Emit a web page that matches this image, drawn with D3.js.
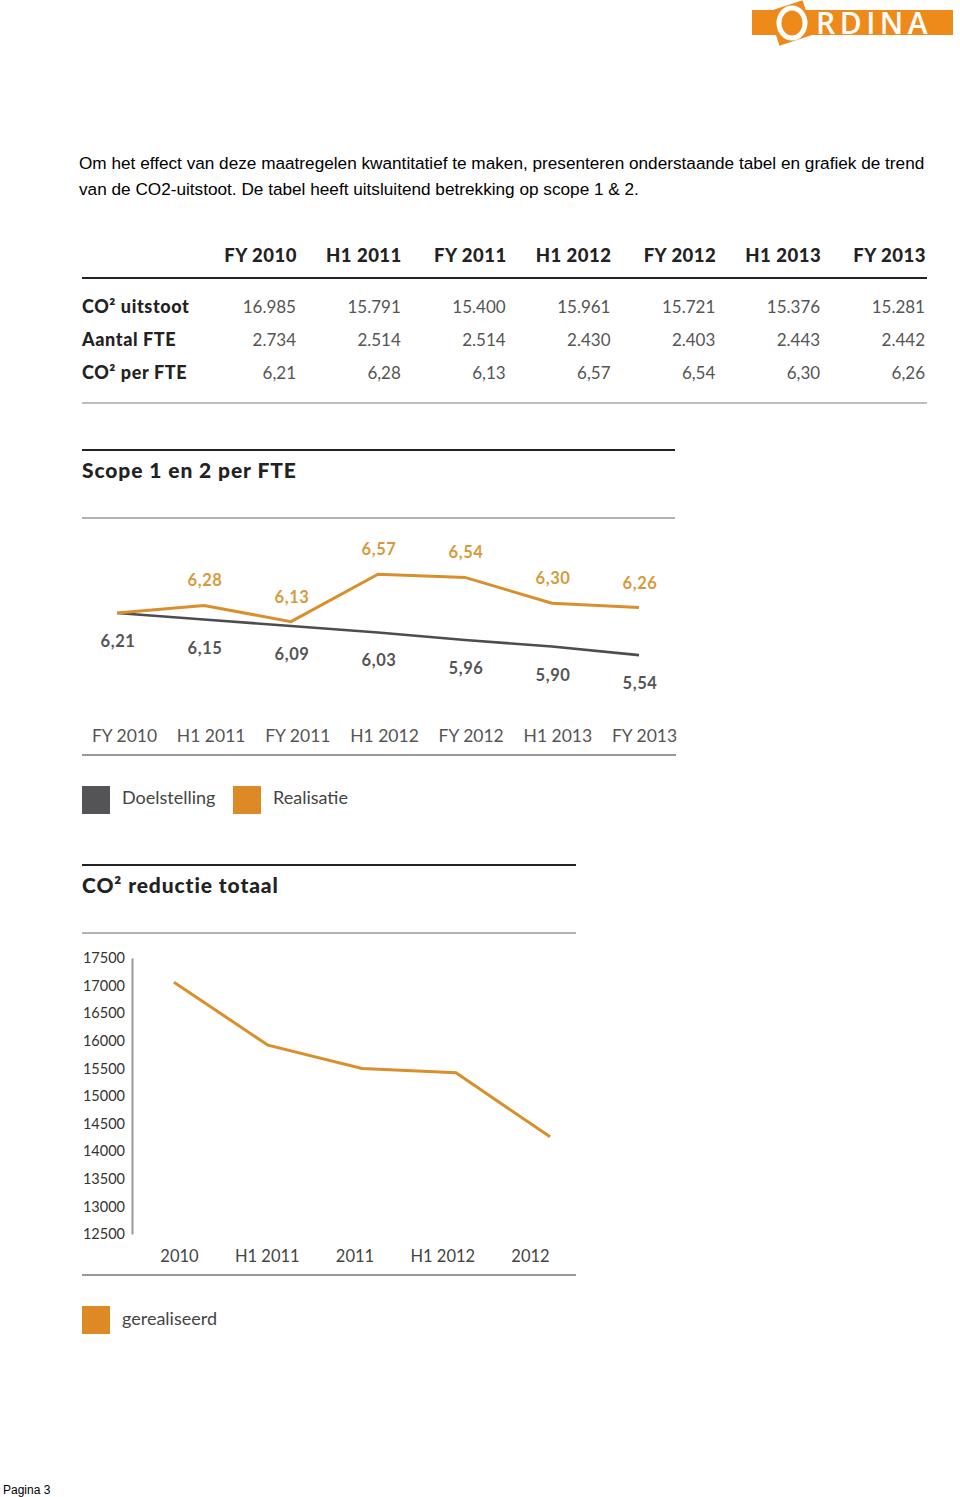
<!DOCTYPE html>
<html><head><meta charset="utf-8">
<script src="https://cdn.jsdelivr.net/npm/d3@7/dist/d3.min.js"></script>
<style>
html,body{margin:0;padding:0;background:#fff;}
svg{display:block;}
</style></head>
<body>
<svg id="c" width="960" height="1497"></svg>
<script>
// ---- data ----
const tablePeriods = ["FY 2010","H1 2011","FY 2011","H1 2012","FY 2012","H1 2013","FY 2013"];
const rowLabels = ["CO² uitstoot","Aantal FTE","CO² per FTE"];
const co2Uitstoot = ["16.985","15.791","15.400","15.961","15.721","15.376","15.281"];
const aantalFTE = ["2.734","2.514","2.514","2.430","2.403","2.443","2.442"];
const co2PerFTE = ["6,21","6,28","6,13","6,57","6,54","6,30","6,26"];

const scopeCats = ["FY 2010","H1 2011","FY 2011","H1 2012","FY 2012","H1 2013","FY 2013"];
const realisatie = [6.21,6.28,6.13,6.57,6.54,6.30,6.26];
const realisatieLabels = ["","6,28","6,13","6,57","6,54","6,30","6,26"];
const doelstelling = [6.21,6.15,6.09,6.03,5.96,5.90,5.82];
const doelstellingLabels = ["6,21","6,15","6,09","6,03","5,96","5,90","5,54"];

const co2Cats = ["2010","H1 2011","2011","H1 2012","2012"];
const gerealiseerd = [17060,15920,15500,15420,14260];
const co2Ticks = [12500,13000,13500,14000,14500,15000,15500,16000,16500,17000,17500];

// ---- drawing ----
const svg = d3.select("#c");
const ORANGE = "#d98f2b", ORANGE_LBL = "#d69a3c", GREY = "#4d4d4f", LEG_OR = "#dd8a26";
const GEO = "Lato, 'Noto Sans', sans-serif";

// logo
const logo = svg.append("g");
logo.append("rect").attr("x",752).attr("y",10).attr("width",201).attr("height",25).attr("fill","#ee8a1a");
logo.append("rect").attr("x",773).attr("y",5).attr("width",36).attr("height",36).attr("fill","#ee8a1a")
  .attr("transform","rotate(-18,791,23)");
logo.append("ellipse").attr("cx",792).attr("cy",23).attr("rx",13).attr("ry",15)
  .attr("fill","none").attr("stroke","#fff").attr("stroke-width",5);
logo.append("text").attr("x",816).attr("y",34).text("RDINA")
  .attr("font-family","'Open Sans', sans-serif").attr("font-size",30).attr("font-weight",600)
  .attr("letter-spacing",4.5).attr("fill","#fff");

// paragraph
const para = ["Om het effect van deze maatregelen kwantitatief te maken, presenteren onderstaande tabel en grafiek de trend",
              "van de CO2-uitstoot. De tabel heeft uitsluitend betrekking op scope 1 & 2."];
svg.selectAll("text.para").data(para).enter().append("text").attr("class","para")
  .attr("x",79).attr("y",(d,i)=>169+i*26).text(d=>d)
  .attr("font-family","'Liberation Sans', Arial, sans-serif").attr("font-size",17.2).attr("fill","#000");

svg.append("text").attr("x",3).attr("y",1494).text("Pagina 3")
  .attr("font-family","'Liberation Sans', Arial, sans-serif").attr("font-size",12).attr("fill","#000");

// ---- table ----
const colRight = d3.scalePoint().domain(tablePeriods).range([297,926]);
const tbl = svg.append("g");
tbl.selectAll("text.th").data(tablePeriods).enter().append("text")
  .attr("x",d=>colRight(d)).attr("y",262).attr("text-anchor","end").text(d=>d)
  .attr("font-family",GEO).attr("font-weight",900).attr("font-size",18.5).attr("letter-spacing",0.5).attr("fill","#222");
tbl.append("line").attr("x1",82).attr("x2",927).attr("y1",278).attr("y2",278).attr("stroke","#222").attr("stroke-width",2);
tbl.append("line").attr("x1",82).attr("x2",927).attr("y1",403).attr("y2",403).attr("stroke","#bdbdbd").attr("stroke-width",2);
const rows = [co2Uitstoot, aantalFTE, co2PerFTE];
const rowY = d3.scalePoint().domain(rowLabels).range([313,379]);
tbl.selectAll("text.rl").data(rowLabels).enter().append("text")
  .attr("x",82).attr("y",d=>rowY(d)).text(d=>d)
  .attr("font-family",GEO).attr("font-weight",900).attr("font-size",18).attr("letter-spacing",0.6).attr("fill","#222");
rows.forEach((r,ri)=>{
  tbl.selectAll("text.v"+ri).data(r).enter().append("text")
    .attr("x",(d,i)=>colRight(tablePeriods[i])-1).attr("y",rowY(rowLabels[ri]))
    .attr("text-anchor","end").text(d=>d)
    .attr("font-family",GEO).attr("font-size",17).attr("fill","#555");
});

// ---- chart 1 ----
const c1 = svg.append("g");
c1.append("line").attr("x1",82).attr("x2",675).attr("y1",450).attr("y2",450).attr("stroke","#222").attr("stroke-width",2);
c1.append("text").attr("x",82).attr("y",478).text("Scope 1 en 2 per FTE")
  .attr("font-family",GEO).attr("font-weight",900).attr("font-size",21).attr("letter-spacing",0.9).attr("fill","#222");
c1.append("line").attr("x1",82).attr("x2",675).attr("y1",518).attr("y2",518).attr("stroke","#999").attr("stroke-width",1.5);

const x1 = d3.scalePoint().domain(scopeCats).range([117,639]);
const y1 = d3.scaleLinear().domain([5.8,6.6]).range([657.3,570.9]);
const line1 = d3.line().x((d,i)=>x1(scopeCats[i])).y(d=>y1(d));
c1.append("path").datum(doelstelling).attr("d",line1).attr("fill","none").attr("stroke",GREY).attr("stroke-width",2.6);
c1.append("path").datum(realisatie).attr("d",line1).attr("fill","none").attr("stroke",ORANGE).attr("stroke-width",3);
c1.selectAll("text.ol").data(realisatie).enter().append("text")
  .attr("x",(d,i)=>x1(scopeCats[i])+1).attr("y",d=>y1(d)-19).attr("text-anchor","middle")
  .text((d,i)=>realisatieLabels[i])
  .attr("font-family",GEO).attr("font-weight",700).attr("font-size",16.5).attr("letter-spacing",0.6).attr("fill",ORANGE_LBL);
c1.selectAll("text.gl").data(doelstelling).enter().append("text")
  .attr("x",(d,i)=>x1(scopeCats[i])+1).attr("y",d=>y1(d)+34).attr("text-anchor","middle")
  .text((d,i)=>doelstellingLabels[i])
  .attr("font-family",GEO).attr("font-weight",700).attr("font-size",16.5).attr("letter-spacing",0.6).attr("fill","#555");

const xa1 = d3.scalePoint().domain(scopeCats).range([124,644]);
const ax1 = c1.append("g").attr("transform","translate(0,736)")
  .call(d3.axisBottom(xa1).tickSize(0).tickPadding(0));
ax1.select(".domain").remove();
ax1.selectAll("text").attr("dy","0.35em").attr("font-family",GEO).attr("font-size",17.5).attr("fill","#555");
c1.append("line").attr("x1",82).attr("x2",676).attr("y1",755).attr("y2",755).attr("stroke","#999").attr("stroke-width",2);

const leg1 = [{t:"Doelstelling",c:"#545456",x:82},{t:"Realisatie",c:LEG_OR,x:233}];
leg1.forEach(l=>{
  c1.append("rect").attr("x",l.x).attr("y",786).attr("width",28).attr("height",28).attr("fill",l.c);
  c1.append("text").attr("x",l.x+40).attr("y",804).text(l.t)
    .attr("font-family",GEO).attr("font-size",18).attr("fill","#444");
});

// ---- chart 2 ----
const c2 = svg.append("g");
c2.append("line").attr("x1",82).attr("x2",576).attr("y1",865).attr("y2",865).attr("stroke","#222").attr("stroke-width",2);
c2.append("text").attr("x",82).attr("y",893).text("CO² reductie totaal")
  .attr("font-family",GEO).attr("font-weight",900).attr("font-size",21).attr("letter-spacing",0.9).attr("fill","#222");
c2.append("line").attr("x1",82).attr("x2",576).attr("y1",933).attr("y2",933).attr("stroke","#999").attr("stroke-width",1.5);

const y2 = d3.scaleLinear().domain([12500,17500]).range([1234,958]);
const ay2 = c2.append("g").attr("transform","translate(132,0)")
  .call(d3.axisLeft(y2).tickValues(co2Ticks).tickSize(0).tickPadding(7).tickFormat(d3.format("d")));
ay2.select(".domain").attr("stroke","#999").attr("stroke-width",2);
ay2.selectAll("text").attr("font-family",GEO).attr("font-size",14.5).attr("fill","#333");

const x2 = d3.scalePoint().domain(co2Cats).range([174,550]);
const line2 = d3.line().x((d,i)=>x2(co2Cats[i])).y(d=>y2(d));
c2.append("path").datum(gerealiseerd).attr("d",line2).attr("fill","none").attr("stroke",ORANGE).attr("stroke-width",3);

const xa2 = d3.scalePoint().domain(co2Cats).range([179,530]);
const ax2 = c2.append("g").attr("transform","translate(0,1256)")
  .call(d3.axisBottom(xa2).tickSize(0).tickPadding(0));
ax2.select(".domain").remove();
ax2.selectAll("text").attr("dy","0.35em").attr("font-family",GEO).attr("font-size",16.5).attr("fill","#444");
c2.append("line").attr("x1",82).attr("x2",576).attr("y1",1275).attr("y2",1275).attr("stroke","#999").attr("stroke-width",2);

c2.append("rect").attr("x",82).attr("y",1306).attr("width",28).attr("height",28).attr("fill",LEG_OR);
c2.append("text").attr("x",122).attr("y",1325).text("gerealiseerd")
  .attr("font-family",GEO).attr("font-size",18).attr("fill","#444");
</script>
</body></html>
